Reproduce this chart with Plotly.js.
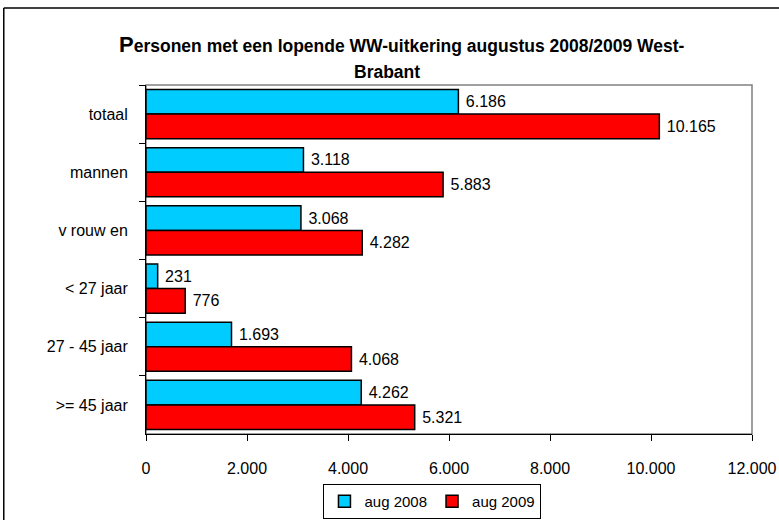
<!DOCTYPE html>
<html>
<head>
<meta charset="utf-8">
<script src="https://cdn.plot.ly/plotly-3.0.1.min.js"></script>
<style>html,body{margin:0;padding:0;background:#fff;}#chart{width:779px;height:520px;}</style>
</head>
<body>
<div id="chart"></div>
<script>
const categories = ["totaal", "mannen", "v rouw en", "< 27 jaar", "27 - 45 jaar", ">= 45 jaar"];
const aug2008 = [6186, 3118, 3068, 231, 1693, 4262];
const aug2009 = [10165, 5883, 4282, 776, 4068, 5321];
const seriesNames = ["aug 2008", "aug 2009"];
const xTicks = [0, 2000, 4000, 6000, 8000, 10000, 12000];

const FONT = '"Liberation Sans", Arial, sans-serif';

const traces = [
  {type: 'bar', orientation: 'h', name: seriesNames[0], y: categories, x: aug2008,
   marker: {color: '#00CCFF', line: {color: '#000', width: 1.5}},
   texttemplate: '\u00a0%{x:,d}', textposition: 'outside', cliponaxis: false,
   textfont: {family: FONT, size: 16, color: '#000'}},
  {type: 'bar', orientation: 'h', name: seriesNames[1], y: categories, x: aug2009,
   marker: {color: '#FF0000', line: {color: '#000', width: 1.5}},
   texttemplate: '\u00a0%{x:,d}', textposition: 'outside', cliponaxis: false,
   textfont: {family: FONT, size: 16, color: '#000'}}
];

const layout = {
  width: 779, height: 520,
  margin: {l: 146, r: 27, t: 85, b: 86, autoexpand: false},
  paper_bgcolor: '#fff', plot_bgcolor: '#fff',
  separators: ',.',
  font: {family: FONT, size: 16, color: '#000'},
  barmode: 'group', bargap: 0.155, bargroupgap: 0,
  showlegend: true,
  legend: {orientation: 'h', x: 0.4727, xanchor: 'center', y: -0.1433, yanchor: 'top',
           bordercolor: '#000', borderwidth: 1, font: {family: FONT, size: 15},
           traceorder: 'normal'},
  xaxis: {range: [0, 12000], tickvals: xTicks, tickformat: ',d', ticks: 'outside', ticklen: 6,
          tickcolor: '#000', showline: true, linecolor: '#000', linewidth: 1, showgrid: false,
          zeroline: false, ticklabelstandoff: 14, tickfont: {family: FONT, size: 16}, fixedrange: true},
  yaxis: {autorange: 'reversed', type: 'category', tickson: 'boundaries', ticks: 'outside', ticklen: 6,
          tickcolor: '#000', showline: true, linecolor: '#000', linewidth: 1, showgrid: false,
          zeroline: false, ticklabelstandoff: 14, tickfont: {family: FONT, size: 16}, fixedrange: true},
  shapes: [
    {type: 'rect', xref: 'paper', yref: 'paper', x0: 0, x1: 1, y0: 0, y1: 1,
     line: {color: '#808080', width: 1.5}, layer: 'below'},
    {type: 'line', xref: 'paper', yref: 'paper', x0: -0.2347, x1: -0.2347, y0: -0.3, y1: 1.2206,
     line: {color: '#000', width: 1.5}, layer: 'below'},
    {type: 'line', xref: 'paper', yref: 'paper', x0: -0.2347, x1: 1.1, y0: 1.2206, y1: 1.2206,
     line: {color: '#000', width: 1.5}, layer: 'below'}
  ],
  annotations: [
    {xref: 'paper', yref: 'paper', x: 0.423, y: 1 + (85 - 44) / 349, xanchor: 'center', yanchor: 'middle',
     showarrow: false, text: '<b><span style="font-size:22px">P</span>ersonen met een lopende WW-uitkering augustus 2008/2009 West-</b>',
     font: {family: FONT, size: 17.5, color: '#000'}},
    {xref: 'paper', yref: 'paper', x: 0.398, y: 1 + (85 - 72) / 349, xanchor: 'center', yanchor: 'middle',
     showarrow: false, text: '<b>Brabant</b>',
     font: {family: FONT, size: 17.5, color: '#000'}}
  ]
};

Plotly.newPlot('chart', traces, layout, {displayModeBar: false, staticPlot: true});
</script>
</body>
</html>
